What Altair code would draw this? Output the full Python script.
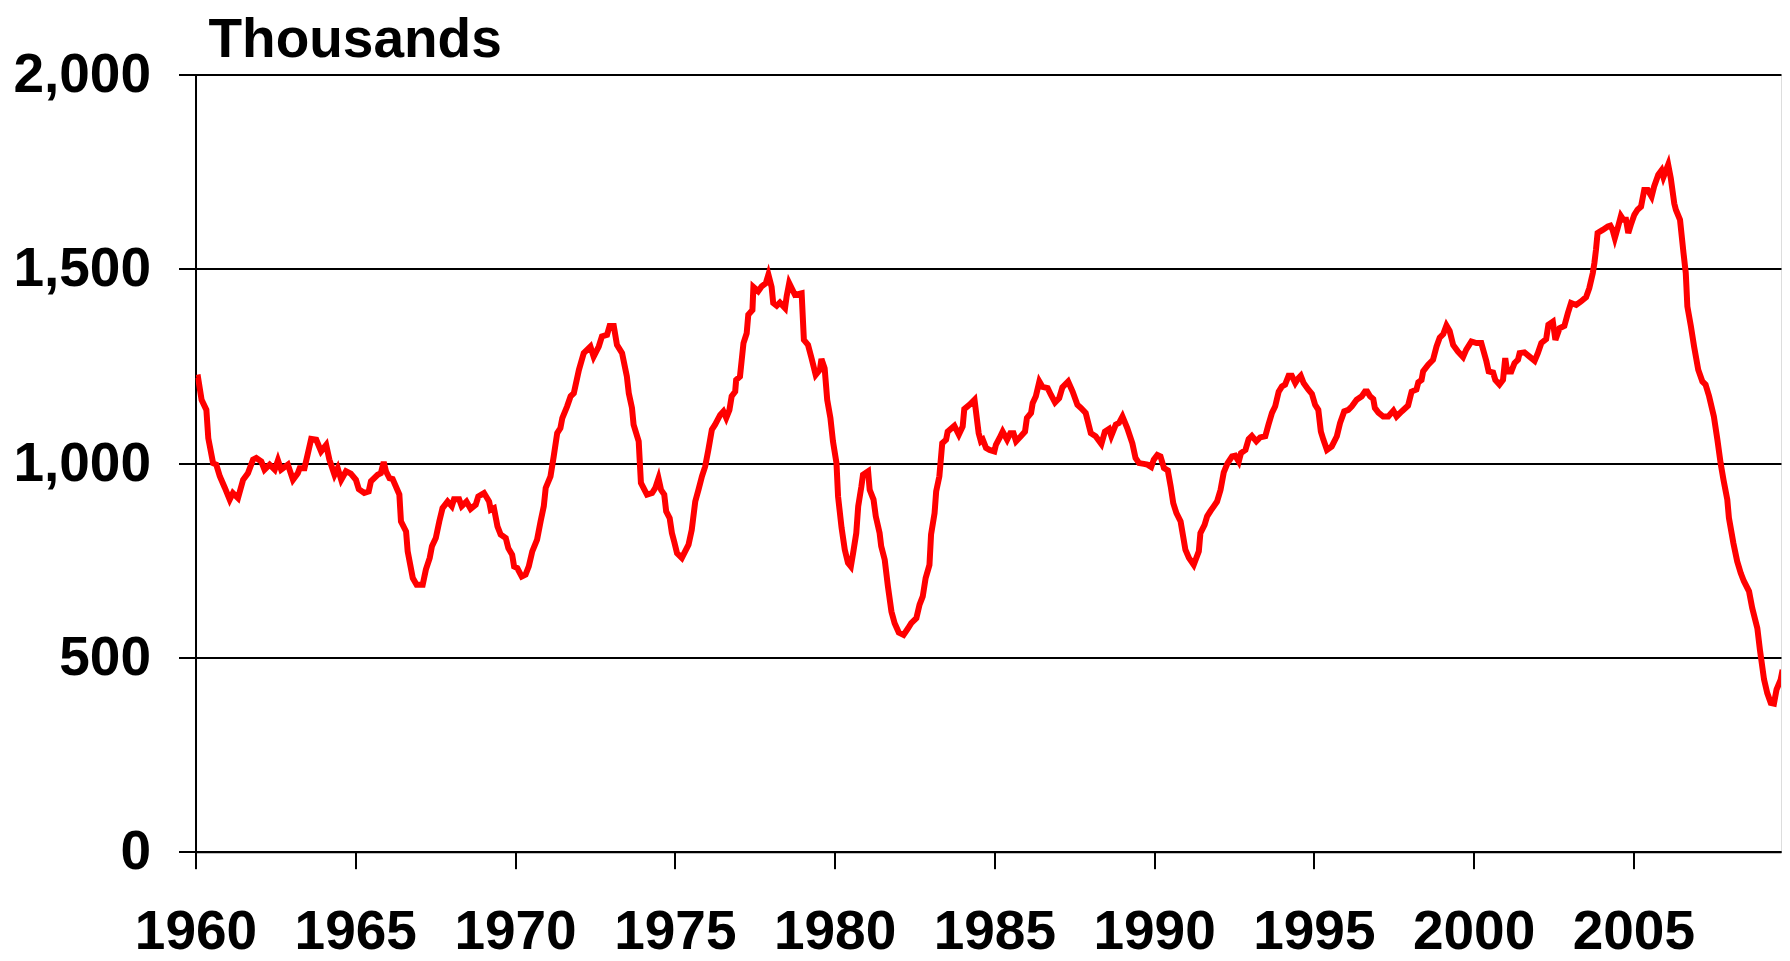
import altair as alt
import pandas as pd

# Decimal year positions and values (thousands)
years = [
    1960.03, 1960.08, 1960.19, 1960.34, 1960.40, 1960.55, 1960.65, 1960.76, 1960.92, 1961.07,
    1961.17, 1961.33, 1961.49, 1961.64, 1961.80, 1961.90, 1962.06, 1962.16, 1962.32, 1962.48,
    1962.58, 1962.68, 1962.89, 1963.05, 1963.20, 1963.26, 1963.41, 1963.52, 1963.62, 1963.78,
    1963.93, 1964.09, 1964.19, 1964.35, 1964.45, 1964.56, 1964.71, 1964.86, 1965.02, 1965.11,
    1965.28, 1965.42, 1965.49, 1965.70, 1965.80, 1965.89, 1965.96, 1966.07, 1966.17, 1966.38,
    1966.43, 1966.59, 1966.64, 1966.80, 1966.92, 1967.11, 1967.21, 1967.33, 1967.40, 1967.52,
    1967.63, 1967.73, 1967.89, 1968.02, 1968.09, 1968.25, 1968.33, 1968.48, 1968.61, 1968.77,
    1968.85, 1969.03, 1969.19, 1969.24, 1969.34, 1969.45, 1969.55, 1969.71, 1969.79, 1969.91,
    1969.97, 1970.07, 1970.21, 1970.33, 1970.43, 1970.54, 1970.69, 1970.80, 1970.90, 1970.96,
    1971.11, 1971.21, 1971.32, 1971.42, 1971.48, 1971.63, 1971.74, 1971.84, 1972.00, 1972.15,
    1972.36, 1972.46, 1972.62, 1972.72, 1972.88, 1972.96, 1973.09, 1973.19, 1973.35, 1973.50,
    1973.56, 1973.66, 1973.71, 1973.87, 1973.94, 1974.13, 1974.29, 1974.39, 1974.49, 1974.57,
    1974.67, 1974.73, 1974.84, 1974.91, 1974.98, 1975.07, 1975.22, 1975.43, 1975.53, 1975.64,
    1975.74, 1975.85, 1975.95, 1976.05, 1976.16, 1976.26, 1976.42, 1976.52, 1976.61, 1976.71,
    1976.78, 1976.89, 1976.92, 1977.04, 1977.09, 1977.15, 1977.25, 1977.30, 1977.43, 1977.46,
    1977.61, 1977.72, 1977.85, 1977.93, 1978.03, 1978.08, 1978.19, 1978.29, 1978.45, 1978.50,
    1978.58, 1978.76, 1978.97, 1979.04, 1979.17, 1979.28, 1979.41, 1979.54, 1979.59, 1979.69,
    1979.77, 1979.87, 1979.95, 1980.06, 1980.11, 1980.22, 1980.32, 1980.42, 1980.51, 1980.58,
    1980.68, 1980.74, 1980.84, 1980.89, 1981.05, 1981.10, 1981.22, 1981.29, 1981.41, 1981.46,
    1981.57, 1981.67, 1981.78, 1981.88, 1982.01, 1982.16, 1982.30, 1982.40, 1982.56, 1982.66,
    1982.76, 1982.85, 1982.97, 1983.02, 1983.13, 1983.18, 1983.28, 1983.37, 1983.49, 1983.54,
    1983.75, 1983.89, 1984.01, 1984.06, 1984.22, 1984.38, 1984.51, 1984.58, 1984.64, 1984.74,
    1984.85, 1985.00, 1985.05, 1985.16, 1985.26, 1985.40, 1985.50, 1985.60, 1985.68, 1985.83,
    1985.96, 1986.02, 1986.15, 1986.20, 1986.30, 1986.41, 1986.51, 1986.67, 1986.77, 1986.90,
    1987.03, 1987.13, 1987.31, 1987.45, 1987.60, 1987.71, 1987.86, 1988.02, 1988.17, 1988.35,
    1988.46, 1988.59, 1988.66, 1988.80, 1988.90, 1989.01, 1989.16, 1989.32, 1989.42, 1989.53,
    1989.68, 1989.79, 1989.91, 1989.99, 1990.10, 1990.20, 1990.31, 1990.43, 1990.52, 1990.60,
    1990.70, 1990.83, 1990.91, 1990.98, 1991.09, 1991.24, 1991.40, 1991.45, 1991.58, 1991.66,
    1991.76, 1991.87, 1991.97, 1992.08, 1992.18, 1992.30, 1992.44, 1992.54, 1992.65, 1992.72,
    1992.86, 1992.96, 1993.06, 1993.20, 1993.32, 1993.48, 1993.58, 1993.69, 1993.79, 1993.90,
    1994.00, 1994.10, 1994.21, 1994.31, 1994.42, 1994.52, 1994.59, 1994.68, 1994.83, 1994.94,
    1995.04, 1995.14, 1995.22, 1995.30, 1995.41, 1995.56, 1995.72, 1995.82, 1995.95, 1996.08,
    1996.19, 1996.34, 1996.50, 1996.60, 1996.67, 1996.76, 1996.86, 1996.91, 1997.02, 1997.17,
    1997.33, 1997.49, 1997.59, 1997.75, 1997.95, 1998.06, 1998.21, 1998.27, 1998.37, 1998.42,
    1998.58, 1998.73, 1998.84, 1998.94, 1999.05, 1999.15, 1999.25, 1999.36, 1999.51, 1999.67,
    1999.77, 1999.93, 2000.09, 2000.24, 2000.40, 2000.47, 2000.61, 2000.68, 2000.81, 2000.92,
    2000.99, 2001.05, 2001.18, 2001.28, 2001.39, 2001.44, 2001.59, 2001.75, 2001.91, 2002.01,
    2002.12, 2002.27, 2002.34, 2002.48, 2002.56, 2002.69, 2002.84, 2002.95, 2003.05, 2003.21,
    2003.36, 2003.52, 2003.62, 2003.73, 2003.78, 2003.83, 2003.88, 2004.04, 2004.20, 2004.28,
    2004.35, 2004.42, 2004.51, 2004.61, 2004.69, 2004.77, 2004.84, 2004.92, 2005.03, 2005.13,
    2005.24, 2005.34, 2005.45, 2005.57, 2005.65, 2005.78, 2005.88, 2005.94, 2006.09, 2006.17,
    2006.28, 2006.33, 2006.46, 2006.57, 2006.64, 2006.69, 2006.80, 2006.90, 2007.03, 2007.16,
    2007.26, 2007.37, 2007.52, 2007.63, 2007.73, 2007.82, 2007.94, 2007.99, 2008.13, 2008.25,
    2008.36, 2008.46, 2008.62, 2008.72, 2008.88, 2008.96, 2009.09, 2009.19, 2009.30, 2009.40,
    2009.48, 2009.61, 2009.67,
]

values = [
    1219, 1220, 1163, 1137, 1064, 1000, 996, 966, 936, 906,
    923, 910, 957, 974, 1009, 1013, 1004, 983, 996, 983,
    1007, 983, 996, 957, 974, 987, 987, 1026, 1062, 1060,
    1030, 1047, 1009, 970, 987, 957, 979, 973, 957, 933,
    923, 927, 953, 970, 974, 1003, 979, 961, 959, 919,
    850, 824, 773, 704, 687, 687, 726, 756, 786, 807,
    850, 884, 901, 889, 907, 907, 889, 901, 882, 893,
    914, 923, 901, 880, 884, 837, 816, 807, 781, 764,
    734, 730, 708, 713, 734, 773, 803, 850, 889, 936,
    966, 1017, 1077, 1090, 1116, 1146, 1172, 1180, 1240, 1283,
    1300, 1274, 1300, 1326, 1330, 1353, 1353, 1304, 1283, 1223,
    1180, 1142, 1099, 1056, 949, 919, 923, 936, 961, 931,
    919, 876, 858, 820, 798, 768, 756, 790, 828, 901,
    931, 966, 991, 1034, 1086, 1099, 1124, 1133, 1116, 1137,
    1172, 1184, 1214, 1223, 1262, 1309, 1334, 1382, 1394, 1453,
    1442, 1455, 1463, 1485, 1453, 1412, 1405, 1413, 1399, 1429,
    1463, 1433, 1437, 1317, 1304, 1270, 1227, 1240, 1268, 1244,
    1163, 1116, 1056, 1000, 914, 833, 777, 743, 734, 768,
    820, 889, 940, 970, 979, 931, 906, 863, 820, 786,
    751, 683, 618, 588, 564, 558, 575, 588, 601, 636,
    657, 704, 738, 816, 871, 927, 966, 1051, 1060, 1081,
    1096, 1073, 1094, 1139, 1150, 1163, 1077, 1056, 1060, 1039,
    1034, 1030, 1047, 1064, 1081, 1060, 1077, 1077, 1056, 1069,
    1081, 1116, 1129, 1154, 1172, 1210, 1196, 1193, 1176, 1156,
    1167, 1195, 1210, 1184, 1150, 1142, 1129, 1077, 1069, 1049,
    1081, 1088, 1070, 1099, 1103, 1120, 1090, 1051, 1013, 1000,
    998, 996, 990, 1009, 1021, 1017, 987, 981, 940, 897,
    871, 850, 811, 777, 756, 738, 773, 820, 841, 863,
    876, 889, 901, 931, 976, 1000, 1017, 1019, 1004, 1026,
    1034, 1062, 1070, 1056, 1066, 1069, 1099, 1129, 1146, 1184,
    1197, 1202, 1225, 1225, 1206, 1219, 1225, 1206, 1189, 1178,
    1150, 1137, 1081, 1060, 1034, 1043, 1069, 1103, 1133, 1137,
    1146, 1163, 1172, 1184, 1184, 1172, 1165, 1142, 1130, 1120,
    1120, 1135, 1120, 1133, 1148, 1184, 1189, 1208, 1214, 1236,
    1253, 1266, 1300, 1323, 1332, 1354, 1340, 1304, 1287, 1273,
    1292, 1313, 1309, 1309, 1262, 1236, 1233, 1214, 1202, 1214,
    1270, 1236, 1236, 1257, 1266, 1283, 1285, 1274, 1263, 1283,
    1309, 1319, 1356, 1364, 1317, 1347, 1353, 1386, 1412, 1407,
    1416, 1427, 1450, 1489, 1515, 1549, 1592, 1600, 1609, 1611,
    1600, 1579, 1605, 1636, 1626, 1626, 1592, 1613, 1639, 1652,
    1660, 1703, 1703, 1686, 1712, 1742, 1753, 1736, 1768, 1734,
    1668, 1652, 1626, 1540, 1489, 1403, 1352, 1300, 1240, 1210,
    1202, 1172, 1120, 1060, 1000, 957, 906, 859, 794, 747,
    717, 696, 670, 627, 575, 520, 443, 408, 383, 381,
    417, 443, 468,
]

x_ticks = [1960, 1965, 1970, 1975, 1980, 1985, 1990, 1995, 2000, 2005]
y_ticks = [0, 500, 1000, 1500, 2000]
title_text = "Thousands"

df = pd.DataFrame({"year": years, "value": values})
title_df = pd.DataFrame({"label": [title_text]})

FONT = "Liberation Sans"
FS = 55

line = (
    alt.Chart(df)
    .mark_line(color="#FF0000", strokeWidth=6, clip=True)
    .encode(
        x=alt.X(
            "year:Q",
            scale=alt.Scale(domain=[1960, 2009.62], nice=False, zero=False),
            axis=alt.Axis(
                values=x_ticks,
                format="d",
                title=None,
                grid=False,
                tickSize=17,
                tickWidth=2,
                tickColor="black",
                domainColor="black",
                domainWidth=2,
                labelFont=FONT,
                labelFontSize=FS,
                labelFontWeight="bold",
                labelColor="black",
                labelPadding=37,
                labelFlush=False,
                labelOverlap=False,
            ),
        ),
        y=alt.Y(
            "value:Q",
            scale=alt.Scale(domain=[0, 2000], nice=False),
            axis=alt.Axis(
                values=y_ticks,
                format=",d",
                title=None,
                grid=True,
                gridColor="black",
                gridWidth=2,
                gridOpacity=1,
                tickSize=17,
                tickWidth=2,
                tickColor="black",
                domainColor="black",
                domainWidth=2,
                labelFont=FONT,
                labelFontSize=FS,
                labelFontWeight="bold",
                labelColor="black",
                labelPadding=28,
                labelOverlap=False,
            ),
        ),
    )
)

title_mark = (
    alt.Chart(title_df)
    .mark_text(
        align="left",
        baseline="alphabetic",
        font=FONT,
        fontSize=FS,
        fontWeight="bold",
        color="black",
    )
    .encode(text="label:N", x=alt.value(13), y=alt.value(-17))
)

chart = (
    alt.layer(line, title_mark)
    .properties(
        width=1585.5,
        height=777.2,
        padding={"left": 187.5, "top": 66.5, "right": 1, "bottom": 109},
        autosize=alt.AutoSizeParams(type="none"),
    )
    .configure_view(stroke="black", strokeWidth=2)
    .configure(background="white")
)

chart.save("out.html", embed_options={"renderer": "svg", "actions": False})
